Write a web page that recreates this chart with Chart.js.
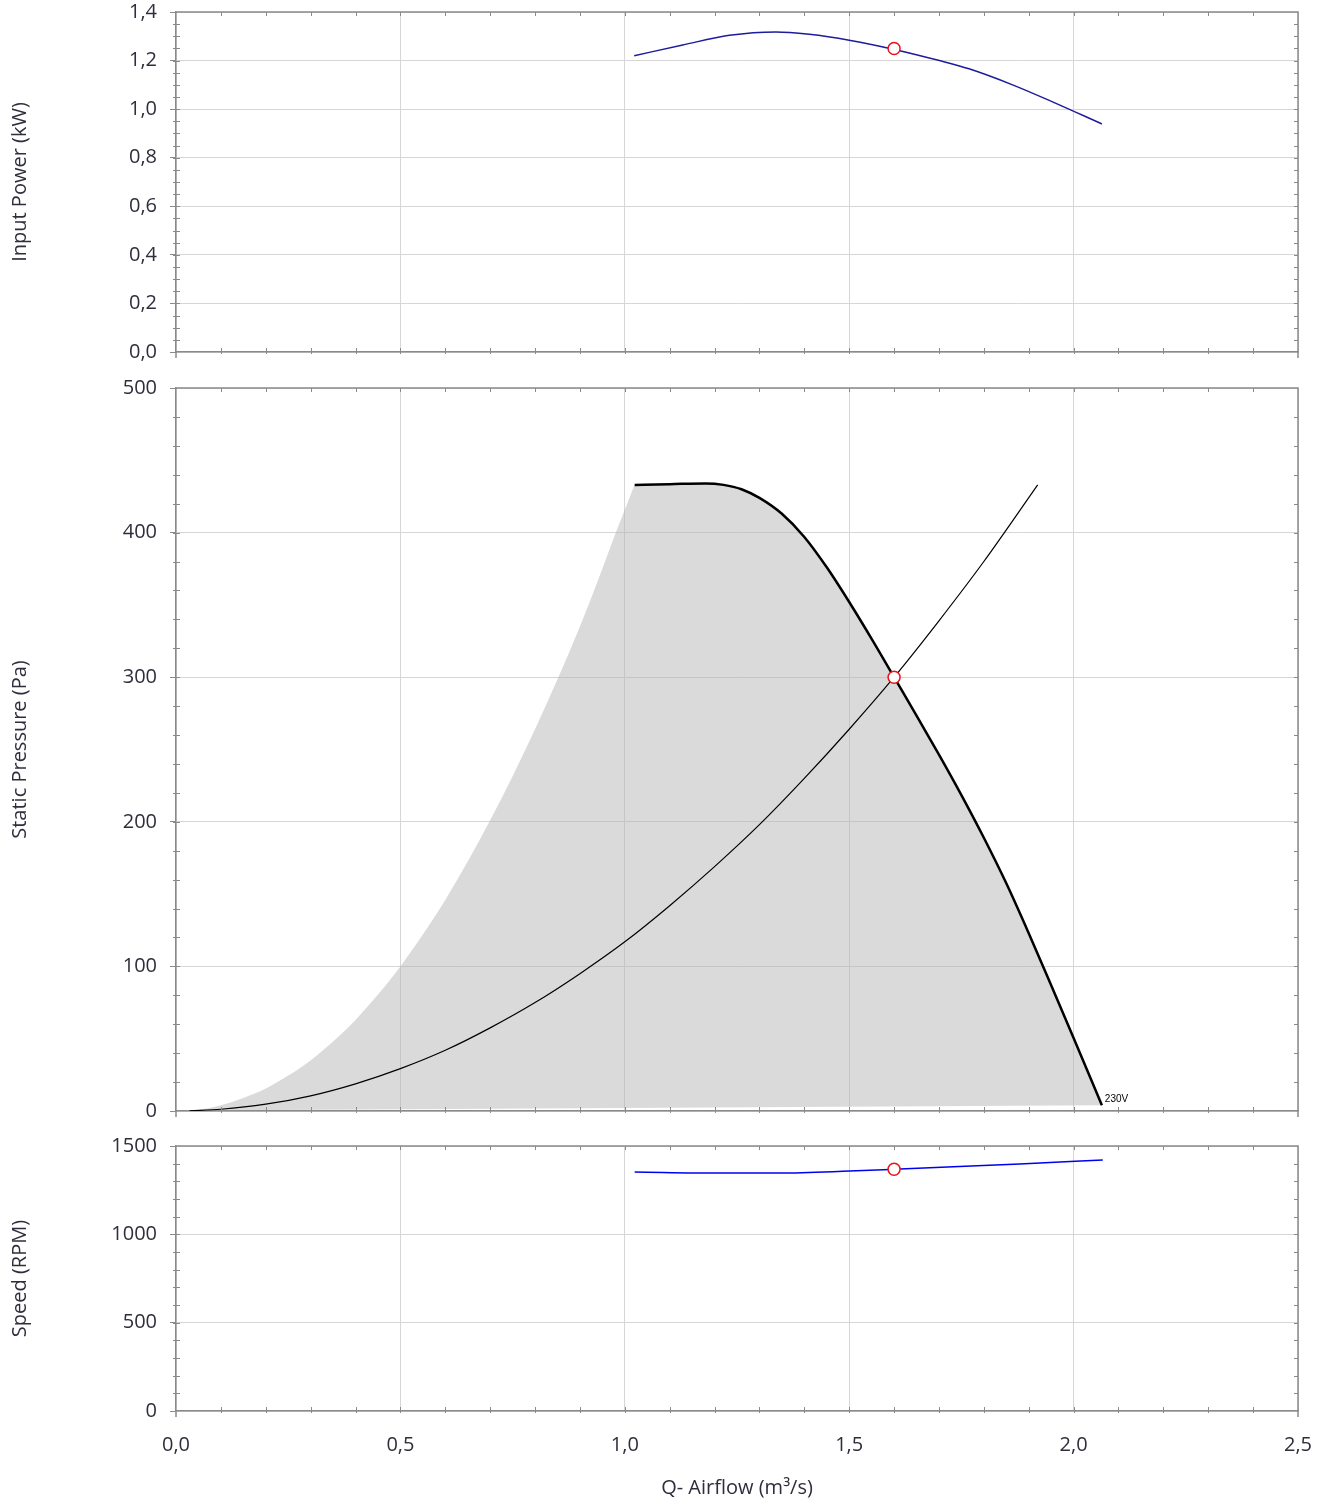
<!DOCTYPE html>
<html>
<head>
<meta charset="utf-8">
<title>Fan curve</title>
<script src="https://cdn.jsdelivr.net/npm/chart.js@4.4.1/dist/chart.umd.min.js"></script>
<style>
  body { margin: 0; background: #fff; }
  #wrap { position: relative; width: 1324px; height: 1504px; }
  canvas { position: absolute; left: 0; }
</style>
</head>
<body>
<div id="wrap">
  <canvas id="powerChart" width="1324" height="370" style="top:0"></canvas>
  <canvas id="pressureChart" width="1324" height="760" style="top:370px"></canvas>
  <canvas id="speedChart" width="1324" height="374" style="top:1130px"></canvas>
</div>
<script>
// airflow axis (m3/s)
const qMin = 0, qMax = 2.5, qStep = 0.5;

// input power curve (kW)
const powerQ = [1.021, 1.129, 1.233, 1.337, 1.411, 1.500, 1.598, 1.701, 1.767, 1.864, 1.953, 2.063];
const powerKW = [1.220, 1.264, 1.304, 1.318, 1.308, 1.284, 1.247, 1.200, 1.166, 1.100, 1.030, 0.939];

// fan curve at 230V (Pa)
const fanQ = [1.022, 1.10, 1.18, 1.22, 1.26, 1.30, 1.35, 1.40, 1.45, 1.50, 1.55, 1.60, 1.65, 1.70, 1.75, 1.80, 1.85, 1.90, 1.95, 2.00, 2.063];
const fanPa = [433, 433.5, 434, 433, 430, 424, 413, 397, 376, 352, 326.5, 300, 273.5, 246.5, 218.5, 189, 157.5, 123, 87, 50.5, 4];
const fanLabel = "230V";

// left edge of the working area (Pa), up to the corner where the fan curve starts
const edgeQ = [0.03, 0.05, 0.10, 0.15, 0.20, 0.25, 0.30, 0.35, 0.40, 0.45, 0.50, 0.55, 0.60, 0.65, 0.70, 0.75, 0.80, 0.85, 0.90, 0.95, 0.98, 1.018];
const edgePa = [0.3, 0.8, 4, 9, 15.5, 24.5, 35, 48, 63, 80.5, 100, 122, 146, 172.5, 201, 231.5, 264, 298.5, 335, 375, 400, 430];

// bottom edge of the working area (Pa)
const floorQ = [0.03, 2.063];
const floorPa = [0.3, 4];

// system curve (Pa)
const sysQ = [0.03, 0.10, 0.20, 0.30, 0.40, 0.50, 0.60, 0.70, 0.80, 0.90, 1.00, 1.10, 1.20, 1.30, 1.40, 1.50, 1.60, 1.70, 1.80, 1.92];
const sysPa = [0.1, 1.2, 4.7, 10.5, 18.8, 29.3, 42, 57.5, 75, 95, 117, 142, 169, 198, 230, 264, 300, 339, 380, 433];

// speed curve (RPM)
const speedQ = [1.022, 1.211, 1.345, 1.501, 1.600, 1.732, 1.880, 2.065];
const speedRPM = [1353, 1347, 1347, 1358, 1368, 1383, 1398, 1421];

// operating point
const opQ = 1.6;
const opKW = 1.25;
const opPa = 300;
const opRPM = 1368;

const textColor = '#2e2e3c';
const gridColor = '#d6d6d6';
const axisColor = '#8a8a8a';
const areaColor = 'rgba(178,178,178,0.48)';

Chart.defaults.font.family = "'Open Sans', 'Noto Sans', sans-serif";
Chart.defaults.font.size = 20;
Chart.defaults.color = textColor;

const pts = (xs, ys) => xs.map((q, i) => ({ x: q, y: ys[i] }));
const comma = v => Number(v).toFixed(1).replace('.', ',');

// minor ticks on all four sides + top/right frame
const frameTicks = {
  id: 'frameTicks',
  afterDraw(chart, args, opts) {
    const { ctx, chartArea: a, scales: { x, y } } = chart;
    ctx.save();
    ctx.strokeStyle = axisColor;
    ctx.lineWidth = 1;
    ctx.beginPath();
    for (let i = 1; i < 25; i++) {
      const px = Math.round(x.getPixelForValue(i / 10)) + 0.5;
      ctx.moveTo(px, a.top); ctx.lineTo(px, a.top + 4);
      ctx.moveTo(px, a.bottom - 4); ctx.lineTo(px, a.bottom + 2);
    }
    const n = Math.round((y.max - y.min) / opts.minor);
    for (let i = 1; i < n; i++) {
      const py = Math.round(y.getPixelForValue(y.min + i * opts.minor)) + 0.5;
      ctx.moveTo(a.left - 3, py); ctx.lineTo(a.left + 4, py);
      ctx.moveTo(a.right - 4, py); ctx.lineTo(a.right, py);
    }
    ctx.stroke();

    ctx.lineWidth = 1.5;
    ctx.beginPath();
    ctx.moveTo(a.left, a.top);
    ctx.lineTo(a.right, a.top);
    ctx.lineTo(a.right, a.bottom + 6);
    ctx.moveTo(a.left, a.bottom);
    ctx.lineTo(a.left, a.bottom + 6);
    ctx.stroke();

    if (opts.label) {
      ctx.fillStyle = '#000';
      ctx.font = "10px 'Liberation Sans', Arial, sans-serif";
      ctx.textBaseline = 'bottom';
      const last = fanQ.length - 1;
      ctx.fillText(opts.label, x.getPixelForValue(fanQ[last]) + 3, y.getPixelForValue(fanPa[last]) - 1);
    }
    ctx.restore();
  }
};

function marker(q, v) {
  return {
    data: [{ x: q, y: v }],
    pointRadius: 6,
    pointBackgroundColor: '#fff',
    pointBorderColor: '#e8121b',
    pointBorderWidth: 1.5,
    order: 0
  };
}

// keep label overflow from pushing the plot area around
function noPad(s) {
  s.paddingTop = 0; s.paddingBottom = 0;
  s.paddingLeft = 0; s.paddingRight = 0;
}

function panel(id, cfg) {
  return new Chart(id, {
    type: 'scatter',
    data: { datasets: cfg.datasets },
    options: {
      responsive: false,
      animation: false,
      layout: { padding: { top: cfg.padTop, right: 26, left: 0, bottom: 0 } },
      plugins: {
        legend: { display: false },
        tooltip: { enabled: false },
        frameTicks: { minor: cfg.minor, label: cfg.label }
      },
      elements: { line: { fill: false } },
      scales: {
        x: {
          type: 'linear',
          min: qMin, max: qMax,
          afterFit: s => { s.height = cfg.xHeight; noPad(s); },
          ticks: { stepSize: qStep, display: cfg.showX, callback: comma, padding: 22, maxRotation: 0 },
          grid: { color: gridColor, drawTicks: false },
          border: { color: axisColor, width: 1.5 },
          title: {
            display: cfg.showX,
            text: 'Q- Airflow (m³/s)',
            font: { size: 20 },
            padding: { top: 0, bottom: 4 }
          }
        },
        y: {
          min: cfg.yMin, max: cfg.yMax,
          afterFit: s => { s.width = 176; noPad(s); },
          ticks: { stepSize: cfg.yStep, callback: cfg.fmt, padding: 13 },
          grid: { color: gridColor, tickColor: axisColor, tickLength: 6 },
          border: { color: axisColor, width: 1.5 },
          title: {
            display: true,
            text: cfg.title,
            font: { size: 20 },
            padding: { top: 8, bottom: 0 }
          }
        }
      }
    },
    plugins: [frameTicks]
  });
}

panel('powerChart', {
  padTop: 12, xHeight: 18, showX: false,
  yMin: 0, yMax: 1.4, yStep: 0.2, minor: 0.05, fmt: comma,
  title: 'Input Power (kW)',
  datasets: [
    marker(opQ, opKW),
    {
      data: pts(powerQ, powerKW),
      showLine: true, pointRadius: 0,
      borderColor: '#1c1c9c', borderWidth: 1.5,
      cubicInterpolationMode: 'monotone', order: 1
    }
  ]
});

panel('pressureChart', {
  padTop: 18, xHeight: 19, showX: false,
  yMin: 0, yMax: 500, yStep: 100, minor: 20, fmt: v => String(v),
  title: 'Static Pressure (Pa)', label: fanLabel,
  datasets: [
    marker(opQ, opPa),
    {
      data: pts(fanQ, fanPa),
      showLine: true, pointRadius: 0,
      borderColor: '#000', borderWidth: 2.5,
      cubicInterpolationMode: 'monotone', order: 1
    },
    {
      data: pts(sysQ, sysPa),
      showLine: true, pointRadius: 0,
      borderColor: '#000', borderWidth: 1.2,
      cubicInterpolationMode: 'monotone', order: 2
    },
    {
      // working area: left edge then the fan curve, filled down to the floor
      data: pts(edgeQ.concat(fanQ), edgePa.concat(fanPa)),
      showLine: true, pointRadius: 0,
      borderWidth: 0, borderColor: 'rgba(0,0,0,0)',
      backgroundColor: areaColor,
      fill: '+1',
      cubicInterpolationMode: 'monotone', order: 3
    },
    {
      data: pts(floorQ, floorPa),
      showLine: true, pointRadius: 0,
      borderWidth: 0, borderColor: 'rgba(0,0,0,0)',
      order: 4
    }
  ]
});

panel('speedChart', {
  padTop: 16, xHeight: 93, showX: true,
  yMin: 0, yMax: 1500, yStep: 500, minor: 100, fmt: v => String(v),
  title: 'Speed (RPM)',
  datasets: [
    marker(opQ, opRPM),
    {
      data: pts(speedQ, speedRPM),
      showLine: true, pointRadius: 0,
      borderColor: '#0000f0', borderWidth: 1.5,
      cubicInterpolationMode: 'monotone', order: 1
    }
  ]
});
</script>
</body>
</html>
